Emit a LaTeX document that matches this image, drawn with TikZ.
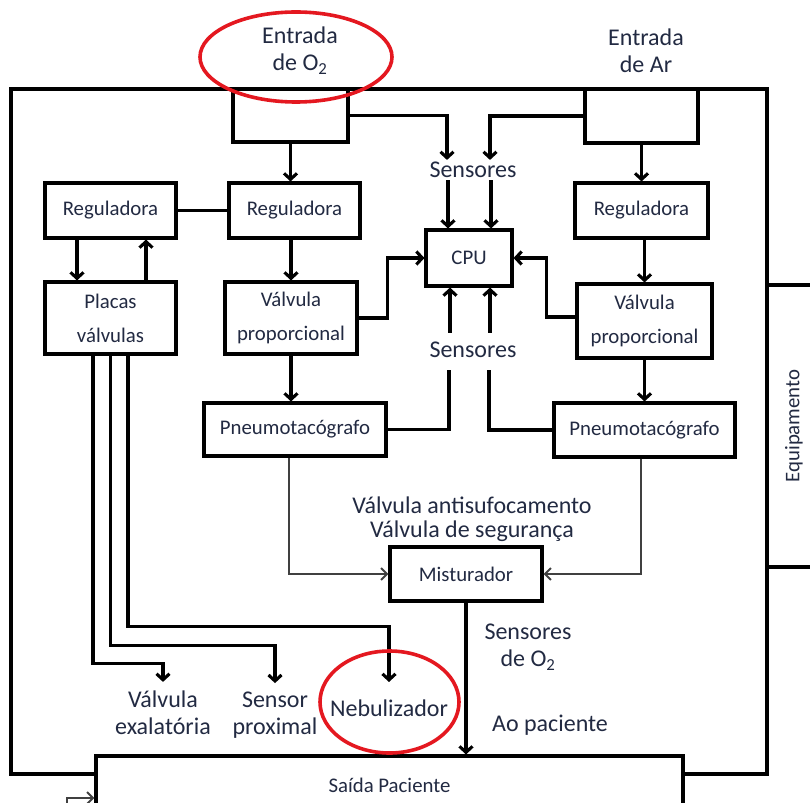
\documentclass[tikz,border=0pt]{standalone}
\usepackage{fontspec}
\setmainfont{Carlito}
\usepackage{tikz}
\usetikzlibrary{arrows.meta}
\definecolor{inkblue}{RGB}{34,42,66}
\definecolor{ringred}{RGB}{228,24,32}
\newcommand\boxfont{\fontsize{20.8}{34}\selectfont}
\newcommand\lblfont{\fontsize{24}{27}\selectfont}
\tikzset{
         blk/.style={draw,line width=3.1pt,fill=white,inner sep=0pt,align=center,font=\boxfont,text=inkblue},
         lbl/.style={inner sep=2pt,align=center,font=\lblfont,text=inkblue},
         wire/.style={line width=3.1pt},
         flow/.style={wire,-{Straight Barb[length=6pt,width=13pt]}},
         thinflow/.style={line width=2pt,draw=black!75,-{Straight Barb[length=6pt,width=12pt]}},
         ring/.style={draw=ringred,line width=3.6pt}
        }

\begin{document}
\begin{tikzpicture}[x=1pt,y=-1pt]
      \useasboundingbox (0,0) rectangle (810,802);
      \clip (0,0) rectangle (810,802);
      \draw[wire] (96,774) -| (11,89) -| (767,774) -- (683,774); % casing
      % blocks
      \node[blk,minimum width=115pt,minimum height=53pt] (o2in) at (290.5,115.5) {};
      \node[blk,minimum width=113pt,minimum height=54pt] (arin) at (641.5,116) {};
      \node[blk,minimum width=131pt,minimum height=55pt] (regA) at (110.5,210.5) {Reguladora};
      \node[blk,minimum width=131pt,minimum height=55pt] (regB) at (294.5,210.5) {Reguladora};
      \node[blk,minimum width=133pt,minimum height=55pt] (regC) at (641.5,210.5) {Reguladora};
      \node[blk,minimum width=86pt,minimum height=56pt] (cpu) at (469,258) {CPU};
      \node[blk,minimum width=131pt,minimum height=72pt] (plc) at (110.5,318) {Placas\\válvulas};
      \node[blk,minimum width=132pt,minimum height=72pt] (vpA) at (291,318) {Válvula\\proporcional};
      \node[blk,minimum width=135pt,minimum height=74pt] (vpB) at (644.5,321) {Válvula\\proporcional};
      \node[blk,minimum width=182pt,minimum height=53pt] (pnA) at (295,429.5) {Pneumotacógrafo};
      \node[blk,minimum width=181pt,minimum height=54pt] (pnB) at (644.5,430) {Pneumotacógrafo};
      \node[blk,minimum width=152pt,minimum height=54pt] (mix) at (466,574) {Misturador};
      \node[blk,minimum width=587pt,minimum height=58pt] (out) at (389.5,785) {Saída Paciente};
      \node[blk,rotate=90,minimum width=282pt,minimum height=54pt] (equip) at (794,426) {Equipamento};
      % free labels
      \node[lbl] (entO) at (300,51) {Entrada\\de O\textsubscript{2}};
      \node[lbl] (entAr) at (646,51) {Entrada\\de Ar};
      \node[lbl] (sensA) at (473,170) {Sensores};
      \node[lbl] (sensB) at (473,350) {Sensores};
      \node[lbl] (safety) at (472,519) {Válvula antisufocamento\\[-3pt]Válvula de segurança};
      \node[lbl] (sensO) at (528,647) {Sensores\\de O\textsubscript{2}};
      \node[lbl] (toPat) at (550,725) {Ao paciente};
      \node[lbl] (vexa) at (163,713) {Válvula\\exalatória};
      \node[lbl] (sprox) at (275,715.5) {Sensor\\proximal};
      \node[lbl] (nebu) at (389,708.6) {Nebulizador};
      % gas lines
      \draw[flow] (o2in.south) -- (o2in.south |- regB.north);
      \draw[flow] (arin.south) -- (arin.south |- regC.north);
      \draw[wire] (regA) -- (regB);
      \draw[flow] ([xshift=-33.5pt]regA.south) -- ([xshift=-33.5pt]plc.north);
      \draw[flow] ([xshift=35.5pt]plc.north) -- ([xshift=35.5pt]regA.south);
      \draw[flow] (vpA.north |- regB.south) -- (vpA.north);
      \draw[flow] (vpB.north |- regC.south) -- (vpB.north);
      \draw[flow] (vpA.south) -- (vpA.south |- pnA.north);
      \draw[flow] (vpB.south) -- (vpB.south |- pnB.north);
      \draw[thinflow] ([xshift=-6pt]pnA.south) |- (mix.west);
      \draw[thinflow] ([xshift=-3.5pt]pnB.south) |- (mix.east);
      \draw[flow] (mix.south) -- (mix.south |- out.north);
      % sensing lines
      \draw[flow] (o2in.east) -| ([xshift=-26pt]sensA.north);
      \draw[flow] (arin.west) -| ([xshift=17pt]sensA.north);
      \draw[flow] ([xshift=-21pt]cpu.north |- sensA.south) -- ([xshift=-21pt]cpu.north);
      \draw[flow] ([xshift=22pt]cpu.north |- sensA.south) -- ([xshift=22pt]cpu.north);
      \draw[flow] ([xshift=-19pt,yshift=7pt]cpu.south |- sensB.north) -- ([xshift=-19pt]cpu.south);
      \draw[flow] ([xshift=21pt,yshift=7pt]cpu.south |- sensB.north) -- ([xshift=21pt]cpu.south);
      \draw[wire] (pnA.east) -| ([xshift=-20pt,yshift=-10pt]cpu.south |- sensB.south);
      \draw[wire] (pnB.west) -| ([xshift=20pt,yshift=-10pt]cpu.south |- sensB.south);
      \draw[flow] (vpA.east) -- ++(29pt,0) |- (cpu.west);
      \draw[flow] ([yshift=4pt]vpB.west) -- ++(-29pt,0) |- (cpu.east);
      % valve board outputs
      \draw[flow] ([xshift=-17.5pt]plc.south) -- ++(0,308) -| ([yshift=7pt]vexa.north);
      \draw[flow] (plc.south) -- ++(0,290) -| ([yshift=7pt]sprox.north);
      \draw[flow] ([xshift=17.5pt]plc.south) -- ++(0,271) -| ([yshift=16pt]nebu.north);
      \draw[thinflow] (67,815) |- (out.west |- 0,798); % feed into outlet
      % highlights
      \draw[ring] (296,57) ellipse [x radius=96pt,y radius=45pt];
      \draw[ring] (389.5,702) ellipse [x radius=69.5pt,y radius=51pt];
\end{tikzpicture}
\end{document}
